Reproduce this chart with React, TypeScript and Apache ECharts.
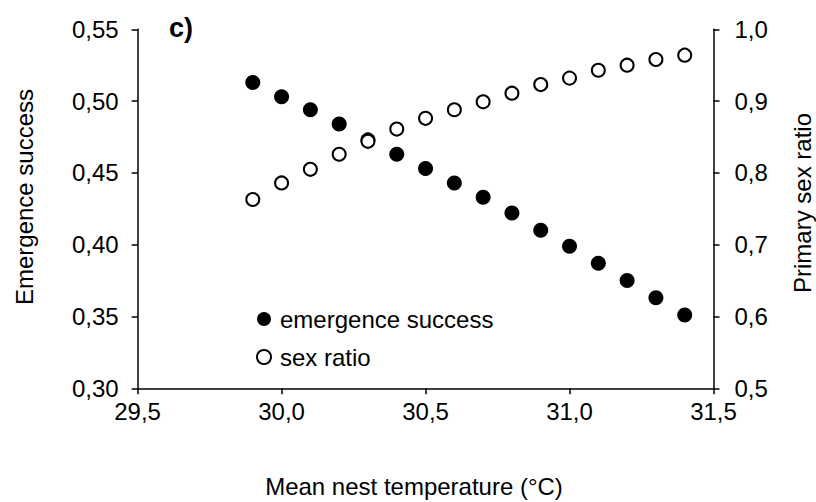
import React, { useEffect, useRef } from "react";
import * as echarts from "echarts";

const temperatures = [29.9, 30.0, 30.1, 30.2, 30.3, 30.4, 30.5, 30.6, 30.7, 30.8, 30.9, 31.0, 31.1, 31.2, 31.3, 31.4];
const emergenceSuccess = [0.513, 0.503, 0.494, 0.484, 0.473, 0.463, 0.453, 0.443, 0.433, 0.422, 0.410, 0.399, 0.387, 0.375, 0.363, 0.351];
const sexRatio = [0.763, 0.786, 0.805, 0.826, 0.844, 0.861, 0.876, 0.888, 0.899, 0.911, 0.923, 0.932, 0.943, 0.950, 0.958, 0.964];
const seriesNames = ["emergence success", "sex ratio"];
const xTitle = "Mean nest temperature (°C)";
const yLeftTitle = "Emergence success";
const yRightTitle = "Primary sex ratio";
const panelLabel = "c)";

const FONT = '"Liberation Sans", Arial, Helvetica, sans-serif';
const FS = 24;

export default function App() {
  const ref = useRef<HTMLDivElement>(null);
  useEffect(() => {
    if (!ref.current) return;
    const chart = echarts.init(ref.current, undefined, { renderer: "svg" });
    const axisLine = { show: true, lineStyle: { color: "#000", width: 1.5 } };
    const axisTick = { show: true, length: 6, lineStyle: { color: "#000", width: 1.5 } };
    chart.setOption({
      animation: false,
      backgroundColor: "#fff",
      textStyle: { fontFamily: FONT, color: "#000" },
      grid: { left: 137.6, right: 102.5, top: 29.3, bottom: 113.7, containLabel: false },
      legend: {
        orient: "vertical",
        left: 251,
        top: 302,
        itemWidth: 14,
        itemHeight: 14,
        itemGap: 14,
        textStyle: { fontFamily: FONT, fontSize: FS, color: "#000", lineHeight: 24, padding: [0, 0, 0, 4] },
        data: [
          { name: seriesNames[0], icon: "circle", itemStyle: { color: "#000", opacity: 1 } },
          { name: seriesNames[1], icon: "emptyCircle", itemStyle: { color: "#000", borderColor: "#000", borderWidth: 1.8, opacity: 1 } },
        ],
      },
      xAxis: {
        type: "value",
        min: 29.5,
        max: 31.5,
        interval: 0.5,
        axisLine,
        axisTick,
        splitLine: { show: false },
        axisLabel: {
          margin: 11,
          fontSize: FS,
          fontFamily: FONT,
          color: "#000",
          formatter: (v: number) => v.toFixed(1).replace(".", ","),
        },
      },
      yAxis: [
        {
          type: "value",
          min: 0.3,
          max: 0.55,
          interval: 0.05,
          position: "left",
          axisLine,
          axisTick,
          splitLine: { show: false },
          axisLabel: {
            margin: 19,
            fontSize: FS,
            fontFamily: FONT,
            color: "#000",
            formatter: (v: number) => v.toFixed(2).replace(".", ","),
          },
        },
        {
          type: "value",
          min: 0.5,
          max: 1.0,
          interval: 0.1,
          position: "right",
          axisLine,
          axisTick,
          splitLine: { show: false },
          axisLabel: {
            margin: 21,
            fontSize: FS,
            fontFamily: FONT,
            color: "#000",
            formatter: (v: number) => v.toFixed(1).replace(".", ","),
          },
        },
      ],
      series: [
        {
          name: seriesNames[0],
          type: "scatter",
          yAxisIndex: 0,
          symbol: "circle",
          symbolSize: 15,
          itemStyle: { color: "#000", opacity: 1 },
          data: temperatures.map((t, i) => [t, emergenceSuccess[i]]),
        },
        {
          name: seriesNames[1],
          type: "scatter",
          yAxisIndex: 1,
          symbol: "circle",
          symbolSize: 13,
          itemStyle: { color: "#fff", borderColor: "#000", borderWidth: 2, opacity: 1 },
          data: temperatures.map((t, i) => [t, sexRatio[i]]),
        },
      ],
      graphic: [
        {
          type: "text",
          x: 181,
          y: 28,
          style: { text: panelLabel, font: `bold 27px ${FONT}`, fill: "#000", align: "center", verticalAlign: "middle" },
        },
        {
          type: "text",
          x: 414,
          y: 486,
          style: { text: xTitle, font: `${FS}px ${FONT}`, fill: "#000", align: "center", verticalAlign: "middle" },
        },
        {
          type: "text",
          x: 24,
          y: 197,
          rotation: Math.PI / 2,
          style: { text: yLeftTitle, font: `${FS}px ${FONT}`, fill: "#000", align: "center", verticalAlign: "middle" },
        },
        {
          type: "text",
          x: 802,
          y: 203,
          rotation: Math.PI / 2,
          style: { text: yRightTitle, font: `${FS}px ${FONT}`, fill: "#000", align: "center", verticalAlign: "middle" },
        },
      ],
    });
    return () => chart.dispose();
  }, []);
  return (
    <div
      ref={ref}
      style={{ position: "fixed", left: 0, top: 0, width: 816, height: 502, background: "#fff" }}
    />
  );
}
